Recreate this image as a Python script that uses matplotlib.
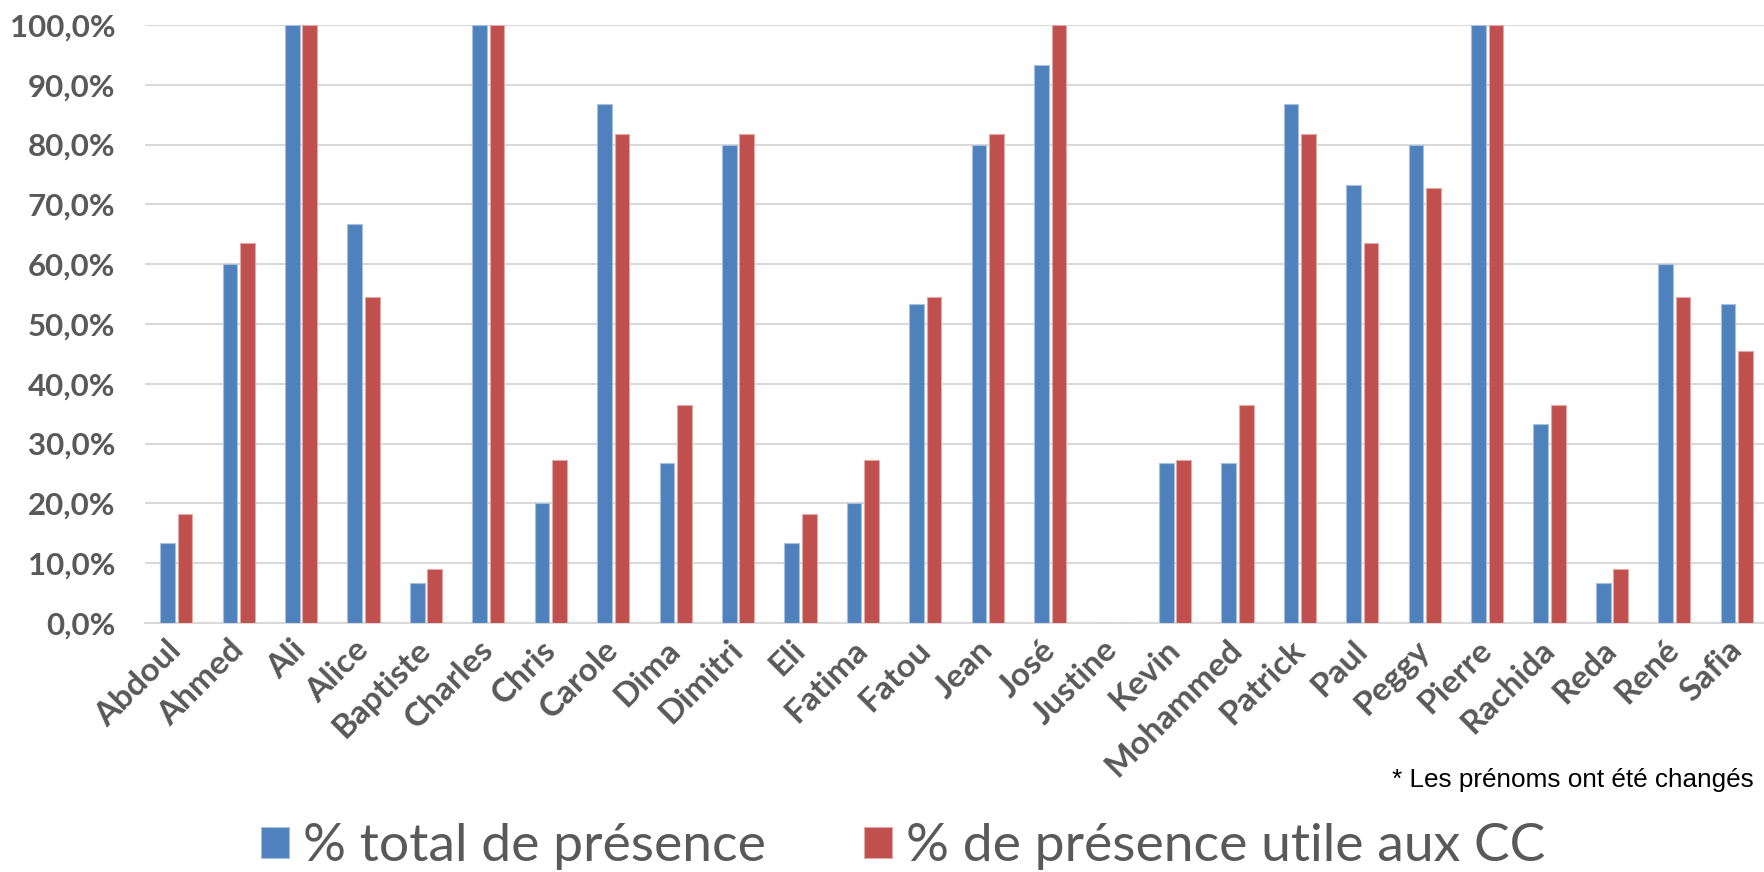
import numpy as np
import matplotlib.pyplot as plt
from matplotlib.ticker import FuncFormatter

names = ["Abdoul", "Ahmed", "Ali", "Alice", "Baptiste", "Charles", "Chris",
         "Carole", "Dima", "Dimitri", "Eli", "Fatima", "Fatou", "Jean", "José",
         "Justine", "Kevin", "Mohammed", "Patrick", "Paul", "Peggy", "Pierre",
         "Rachida", "Reda", "René", "Safia"]
total = [13.3, 60.0, 100.0, 66.7, 6.7, 100.0, 20.0, 86.7, 26.7, 80.0, 13.3,
         20.0, 53.3, 80.0, 93.3, 0.0, 26.7, 26.7, 86.7, 73.3, 80.0, 100.0,
         33.3, 6.7, 60.0, 53.3]
utile = [18.2, 63.6, 100.0, 54.5, 9.1, 100.0, 27.3, 81.8, 36.4, 81.8, 18.2,
         27.3, 54.5, 81.8, 100.0, 0.0, 27.3, 36.4, 81.8, 63.6, 72.7, 100.0,
         36.4, 9.1, 54.5, 45.5]
label_total = "% total de présence"
label_utile = "% de présence utile aux CC"
note = "* Les prénoms ont été changés"

blue = "#4F81BD"
red = "#C0504D"
grey = "#595959"

fig = plt.figure(figsize=(17.64, 8.72), dpi=100)
ax = fig.add_axes([0.0822, 0.2856, 0.9201, 0.6858])

x = np.arange(len(names))
w = 0.235
b1 = ax.bar(x - 0.14, total, w, color=blue, edgecolor="#A7C0DE", linewidth=0.8,
            label=label_total, zorder=3)
b2 = ax.bar(x + 0.14, utile, w, color=red, edgecolor="#E0A8A6", linewidth=0.8,
            label=label_utile, zorder=3)

ax.set_xlim(-0.5, len(names) - 0.5)
ax.set_ylim(0, 100)
ax.set_yticks(np.arange(0, 101, 10))
ax.yaxis.set_major_formatter(FuncFormatter(lambda v, p: f"{v:.1f}%".replace(".", ",")))
ax.grid(axis="y", color="#D9D9D9", linewidth=1.5, zorder=0)
for s in ["top", "right", "left"]:
    ax.spines[s].set_visible(False)
ax.spines["bottom"].set_color("#D9D9D9")
ax.spines["bottom"].set_linewidth(1.5)
ax.tick_params(length=0)
ax.tick_params(axis="y", pad=21.5)

for t in ax.get_yticklabels():
    t.set_fontfamily("Lato")
    t.set_fontweight("bold")
    t.set_fontsize(22.5)
    t.set_color(grey)

ax.set_xticks(x)
ax.set_xticklabels(names, rotation=45, ha="right", va="center",
                   rotation_mode="anchor", fontfamily="Lato", fontweight="bold",
                   fontsize=24, color=grey)
ax.tick_params(axis="x", pad=16)

# footnote, nudged so the last letter stays inside the figure
fig.text(1392 / 1764, 1 - 787 / 872, note, fontfamily="Liberation Sans",
         fontsize=18.8, color="black", ha="left", va="baseline")

fig.legend(handles=[b1, b2], loc="center", bbox_to_anchor=(0.512, 0.0287),
           ncol=2, frameon=False, handlelength=0.52, handleheight=0.52,
           handletextpad=0.26, columnspacing=1.83,
           prop={"family": "Lato", "size": 38.5}, labelcolor=grey)

fig.savefig("out.png", dpi=100)
